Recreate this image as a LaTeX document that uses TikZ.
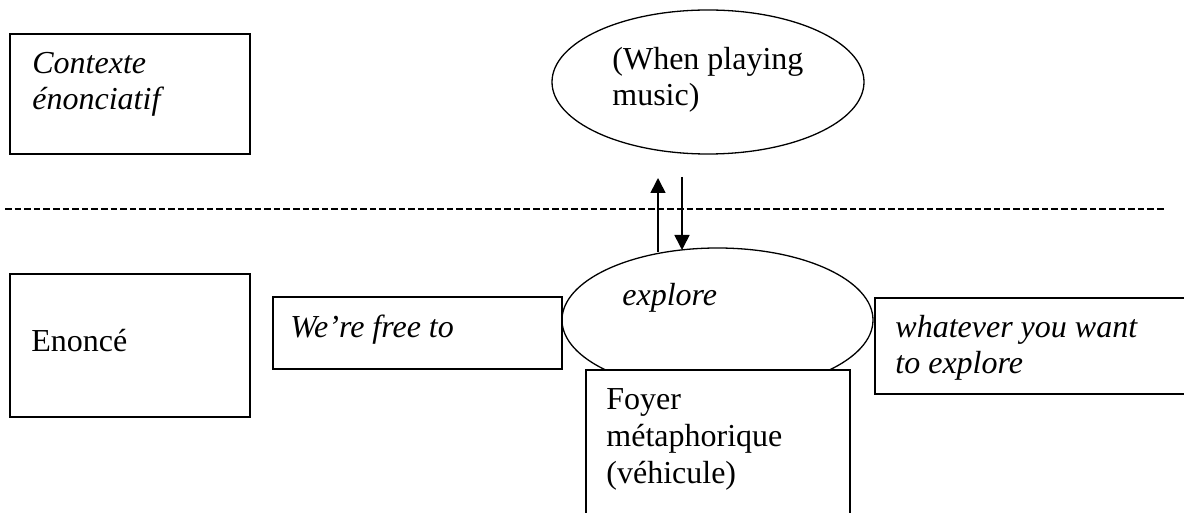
\documentclass[tikz,border=0pt]{standalone}
\usepackage{fontspec}
\setmainfont{Liberation Serif}
\usetikzlibrary{shapes.geometric,arrows.meta}
\begin{document}
\begin{tikzpicture}[x=0.5pt,y=-0.5pt,
  box/.style={draw,line width=0.9pt,inner sep=0pt,outer sep=0pt,fill=white},
  oval/.style={draw,ellipse,line width=0.65pt,inner sep=0pt,outer sep=0pt},
  txt/.style={anchor=base west,inner sep=0pt,font=\fontsize{16}{18.4}\selectfont},
  itxt/.style={anchor=base west,inner sep=0pt,font=\fontsize{16}{18.4}\selectfont\itshape},
  arr/.style={line width=0.8pt,-{Triangle[length=7.5pt,width=7.5pt]}},
  sep/.style={line width=1pt,dash pattern=on 3.3pt off 1.5pt}]
\useasboundingbox (0,0) rectangle (1184,513);
\clip (0,0) rectangle (1184,513);

% upper level
\node[box,minimum width=120pt,minimum height=60pt] (ctx) at (130,94) {};
\node[itxt] (ctx1) at (32,74) {Contexte};
\node[itxt] (ctx2) at (32,110) {énonciatif};

\node[oval,minimum width=156pt,minimum height=72pt] (e1) at (708,82) {};
\node[txt] (e1a) at (612,70) {(When playing};
\node[txt] (e1b) at (612,106) {music)};

% separator
\coordinate (sepL) at (5,209);
\coordinate (sepR) at (1165,209);
\draw[sep] (sepL) -- (sepR);

% lower level
\node[box,minimum width=120pt,minimum height=71.5pt] (en) at (130,345.5) {};
\node[txt] (en1) at (31,351) {Enoncé};

\node[box,minimum width=144.5pt,minimum height=36pt] (free) at (417.5,333) {};
\node[itxt] (free1) at (290,337) {We’re free to};

\node[oval,minimum width=155.5pt,minimum height=72pt] (e2) at (717.5,320) {};
\node[itxt] (e2a) at (622,306) {explore};

\node[box,minimum width=162.5pt,minimum height=48pt] (what) at (1037.5,346) {};
\node[itxt] (what1) at (895,337) {whatever you want};
\node[itxt] (what2) at (895,373) {to explore};

\node[box,minimum width=132pt,minimum height=85pt] (foy) at (718,455) {};
\node[txt] (foy1) at (606,409) {Foyer};
\node[txt] (foy2) at (606,446) {métaphorique};
\node[txt] (foy3) at (606,483) {(véhicule)};

% arrows
\coordinate (upS) at (658,252);
\coordinate (upE) at (658,178);
\coordinate (dnS) at (682,177);
\coordinate (dnE) at (682,250);
\draw[arr] (upS) -- (upE);
\draw[arr] (dnS) -- (dnE);
\end{tikzpicture}
\end{document}
